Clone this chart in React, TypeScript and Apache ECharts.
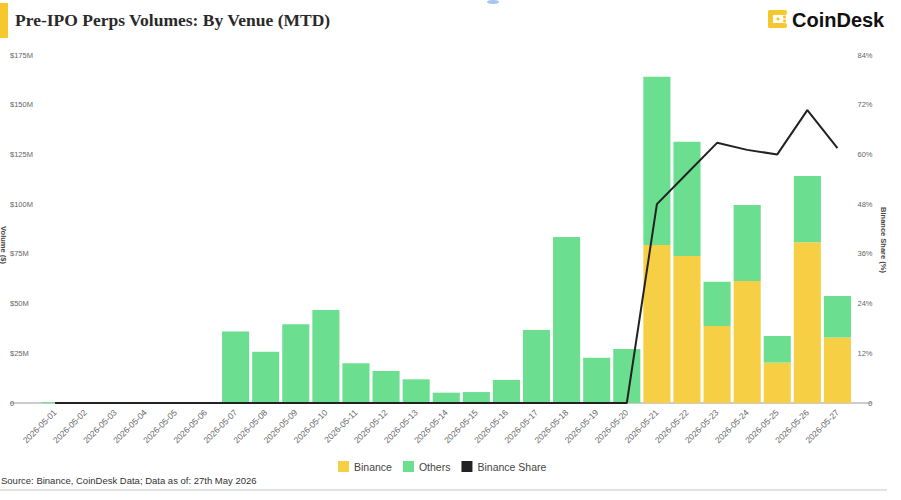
import React, { useEffect, useRef } from "react";
import * as echarts from "echarts";

const dates = [
  "2026-05-01", "2026-05-02", "2026-05-03", "2026-05-04", "2026-05-05", "2026-05-06",
  "2026-05-07", "2026-05-08", "2026-05-09", "2026-05-10", "2026-05-11", "2026-05-12",
  "2026-05-13", "2026-05-14", "2026-05-15", "2026-05-16", "2026-05-17", "2026-05-18",
  "2026-05-19", "2026-05-20", "2026-05-21", "2026-05-22", "2026-05-23", "2026-05-24",
  "2026-05-25", "2026-05-26", "2026-05-27",
];

// Volumes in $M
const binanceVolume = [
  0, 0, 0, 0, 0, 0, 0, 0, 0, 0, 0, 0, 0, 0, 0, 0, 0, 0, 0, 0,
  79.5, 73.9, 38.7, 61.3, 20.3, 80.8, 33.0,
];
const othersVolume = [
  0.5, 0, 0, 0, 0, 0, 35.9, 25.8, 39.6, 46.8, 20.0, 16.1, 11.9, 5.2, 5.5, 11.6, 36.7, 83.5,
  22.8, 27.2, 84.6, 57.5, 22.3, 38.3, 13.4, 33.4, 20.8,
];
// Binance share in %
const binanceShare = [
  0, 0, 0, 0, 0, 0, 0, 0, 0, 0, 0, 0, 0, 0, 0, 0, 0, 0, 0, 0,
  48.0, 55.4, 62.8, 61.1, 60.0, 70.7, 61.5,
];

const volumeTicks = { min: 0, max: 175, interval: 25 };
const shareTicks = { min: 0, max: 84, interval: 12 };

const YELLOW = "#F7CF45";
const GREEN = "#6BDE8F";
const LINE = "#222222";
const SANS = "'Liberation Sans', Arial, sans-serif";

export default function App() {
  const ref = useRef<HTMLDivElement>(null);

  useEffect(() => {
    if (!ref.current) return;
    const chart = echarts.init(ref.current, undefined, { renderer: "svg" });

    const option: any = {
      animation: false,
      backgroundColor: "#ffffff",
      grid: { left: 40, right: 48.5, top: 55, bottom: 97, containLabel: false },
      legend: {
        left: 333,
        top: 456,
        icon: "rect",
        itemWidth: 11,
        itemHeight: 11,
        itemGap: 11,
        textStyle: { fontFamily: SANS, fontSize: 10.5, color: "#444" },
        data: ["Binance", "Others", "Binance Share"],
      },
      xAxis: {
        type: "category",
        data: dates,
        boundaryGap: true,
        axisLine: { show: false },
        axisTick: { show: false },
        axisLabel: {
          interval: 0,
          rotate: 45,
          margin: 8,
          fontSize: 8.5,
          fontFamily: SANS,
          color: "#666",
        },
      },
      yAxis: [
        {
          type: "value",
          ...volumeTicks,
          splitLine: { show: false },
          axisLine: { show: false },
          axisTick: { show: false },
          axisLabel: {
            align: "left",
            margin: 30,
            fontSize: 7.5,
            fontFamily: SANS,
            color: "#666",
            padding: [0, 0, 6, 0],
            formatter: (v: number) => (v === 0 ? "0" : "$" + v + "M"),
          },
        },
        {
          type: "value",
          ...shareTicks,
          position: "right",
          splitLine: { show: false },
          axisLine: { show: false },
          axisTick: { show: false },
          axisLabel: {
            align: "right",
            margin: 20,
            fontSize: 7.5,
            fontFamily: SANS,
            color: "#666",
            padding: [0, 0, 6, 0],
            formatter: (v: number) => (v === 0 ? "0" : v + "%"),
          },
        },
      ],
      series: [
        {
          name: "Binance",
          type: "bar",
          stack: "vol",
          data: binanceVolume,
          barCategoryGap: "10%",
          itemStyle: { color: YELLOW },
          yAxisIndex: 0,
        },
        {
          name: "Others",
          type: "bar",
          stack: "vol",
          data: othersVolume,
          barCategoryGap: "10%",
          itemStyle: { color: GREEN },
          yAxisIndex: 0,
        },
        {
          name: "Binance Share",
          type: "line",
          yAxisIndex: 1,
          data: binanceShare,
          symbol: "none",
          lineStyle: { color: LINE, width: 2 },
          itemStyle: { color: LINE },
          z: 5,
        },
      ],
      graphic: [
        // title accent bar
        { type: "rect", shape: { x: 0, y: 3, width: 8, height: 35 }, style: { fill: "#F5C92E" } },
        {
          type: "text",
          x: 15,
          y: 20,
          style: {
            text: "Pre-IPO Perps Volumes: By Venue (MTD)",
            font: "bold 17.5px 'Liberation Serif', 'DejaVu Serif', serif",
            fill: "#2a2a2a",
            verticalAlign: "middle",
          },
        },
        // small blue mark at top
        { type: "ellipse", shape: { cx: 493, cy: 2, rx: 6, ry: 2 }, style: { fill: "#8fb8ee", opacity: 0.8 } },
        // CoinDesk logo icon
        {
          type: "group",
          children: [
            { type: "rect", shape: { x: 768, y: 10, width: 19, height: 5, r: 2 }, style: { fill: "#F5C92E" } },
            { type: "rect", shape: { x: 768, y: 10, width: 5, height: 18, r: 2 }, style: { fill: "#F5C92E" } },
            { type: "rect", shape: { x: 768, y: 23, width: 19, height: 5, r: 2 }, style: { fill: "#F5C92E" } },
            { type: "circle", shape: { cx: 778, cy: 19, r: 1.6 }, style: { fill: "#F5C92E" } },
            { type: "circle", shape: { cx: 784.5, cy: 17, r: 1.6 }, style: { fill: "#F5C92E" } },
            { type: "circle", shape: { cx: 784.5, cy: 21, r: 1.6 }, style: { fill: "#F5C92E" } },
          ],
        },
        {
          type: "text",
          x: 792,
          y: 20,
          style: {
            text: "CoinDesk",
            font: "bold 20px 'Liberation Sans', Arial, sans-serif",
            fill: "#111",
            verticalAlign: "middle",
          },
        },
        // baseline
        {
          type: "line",
          shape: { x1: 10, y1: 403, x2: 872, y2: 403 },
          style: { stroke: "#9a9a9a", lineWidth: 1 },
          z: -1,
        },
        // axis names
        {
          type: "text",
          x: 3,
          y: 245,
          rotation: -Math.PI / 2,
          style: {
            text: "Volume ($)",
            font: "bold 7.5px 'Liberation Sans', Arial, sans-serif",
            fill: "#444",
            align: "center",
            verticalAlign: "middle",
          },
        },
        {
          type: "text",
          x: 883,
          y: 240,
          rotation: -Math.PI / 2,
          style: {
            text: "Binance Share (%)",
            font: "bold 7.5px 'Liberation Sans', Arial, sans-serif",
            fill: "#444",
            align: "center",
            verticalAlign: "middle",
          },
        },
        // footer
        {
          type: "text",
          x: 1,
          y: 480,
          style: {
            text: "Source: Binance, CoinDesk Data; Data as of: 27th May 2026",
            font: "9.5px 'Liberation Sans', Arial, sans-serif",
            fill: "#333",
            verticalAlign: "middle",
          },
        },
        {
          type: "line",
          shape: { x1: 0, y1: 490, x2: 887, y2: 490 },
          style: { stroke: "#c4c4c4", lineWidth: 1 },
        },
      ],
    };

    chart.setOption(option);
    return () => chart.dispose();
  }, []);

  return (
    <div
      ref={ref}
      style={{ position: "absolute", left: 0, top: 0, width: 901, height: 500 }}
    />
  );
}
